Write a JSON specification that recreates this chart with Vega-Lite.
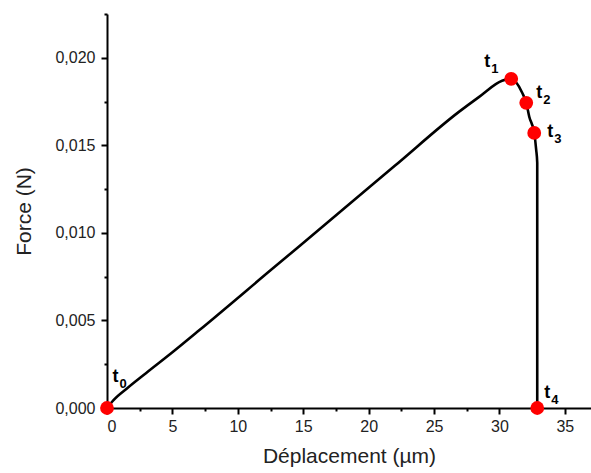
{
  "$schema": "https://vega.github.io/schema/vega-lite/v6.json",
  "width": 484,
  "height": 394,
  "autosize": "none",
  "padding": {"left": 107, "top": 14, "right": 0, "bottom": 65},
  "config": {
    "view": {"stroke": null},
    "axis": {
      "grid": false,
      "domainColor": "#000000",
      "domainWidth": 2,
      "tickColor": "#000000",
      "tickWidth": 2,
      "labelFont": "Liberation Sans",
      "labelFontSize": 16,
      "labelColor": "#222222",
      "titleFont": "Liberation Sans",
      "titleFontSize": 21,
      "titleFontWeight": "normal",
      "titleColor": "#222222",
      "zindex": 0
    }
  },
  "datasets": {
    "curve": [
      {"x": 0, "y": 0},
      {"x": 0.5, "y": 0.00045},
      {"x": 1.5, "y": 0.0011},
      {"x": 3.0, "y": 0.0020},
      {"x": 5.0, "y": 0.00318},
      {"x": 7.07, "y": 0.00445},
      {"x": 12.5, "y": 0.00786},
      {"x": 17.76, "y": 0.01116},
      {"x": 22.0, "y": 0.01383},
      {"x": 26.9, "y": 0.01691},
      {"x": 28.45, "y": 0.01777},
      {"x": 30.2, "y": 0.01869},
      {"x": 30.9, "y": 0.0188},
      {"x": 31.74, "y": 0.0180},
      {"x": 32.05, "y": 0.01743},
      {"x": 32.28, "y": 0.01663},
      {"x": 32.66, "y": 0.01571},
      {"x": 32.81, "y": 0.01474},
      {"x": 32.89, "y": 0.0140},
      {"x": 32.89, "y": 0}
    ],
    "points": [
      {"name": "t0", "x": 0, "y": 0},
      {"name": "t1", "x": 30.9, "y": 0.0188},
      {"name": "t2", "x": 32.05, "y": 0.01743},
      {"name": "t3", "x": 32.66, "y": 0.01571},
      {"name": "t4", "x": 32.89, "y": 0}
    ],
    "labels": [
      {"t": "t", "sub": "0", "x": 0.42, "y": 0.00149},
      {"t": "t", "sub": "1", "x": 28.84, "y": 0.01949},
      {"t": "t", "sub": "2", "x": 32.81, "y": 0.01771},
      {"t": "t", "sub": "3", "x": 33.65, "y": 0.01549},
      {"t": "t", "sub": "4", "x": 33.42, "y": 0.00057}
    ]
  },
  "encoding": {
    "x": {
      "field": "x",
      "type": "quantitative",
      "scale": {"domain": [0, 37], "nice": false, "zero": false},
      "axis": {
        "title": "Déplacement (µm)",
        "values": [0, 2.5, 5, 7.5, 10, 12.5, 15, 17.5, 20, 22.5, 25, 27.5, 30, 32.5, 35],
        "labelExpr": "datum.value % 5 === 0 ? format(datum.value, 'd') : ''",
        "tickSize": {"condition": {"test": "datum.value % 5 === 0", "value": 6}, "value": 3},
        "labelPadding": 4,
        "titlePadding": 11
      }
    },
    "y": {
      "field": "y",
      "type": "quantitative",
      "scale": {"domain": [0, 0.0225], "nice": false, "zero": false},
      "axis": {
        "title": "Force (N)",
        "values": [0, 0.0025, 0.005, 0.0075, 0.01, 0.0125, 0.015, 0.0175, 0.02, 0.0225],
        "labelExpr": "abs(datum.value*200 - round(datum.value*200)) < 0.001 ? replace(format(datum.value, '.3f'), '.', ',') : ''",
        "tickSize": {"condition": {"test": "abs(datum.value*200 - round(datum.value*200)) < 0.001", "value": 6}, "value": 3},
        "labelPadding": 6,
        "titlePadding": 20
      }
    }
  },
  "layer": [
    {
      "data": {"name": "curve"},
      "mark": {"type": "line", "color": "#000000", "strokeWidth": 2.6, "interpolate": "monotone"}
    },
    {
      "data": {"name": "points"},
      "mark": {"type": "circle", "color": "#ff0000", "opacity": 1, "size": 190}
    },
    {
      "data": {"name": "labels"},
      "mark": {"type": "text", "align": "left", "baseline": "alphabetic", "font": "Liberation Sans", "fontWeight": "bold", "fontSize": 18, "color": "#000000"},
      "encoding": {"text": {"field": "t"}}
    },
    {
      "data": {"name": "labels"},
      "mark": {"type": "text", "align": "left", "baseline": "alphabetic", "font": "Liberation Sans", "fontWeight": "bold", "fontSize": 13, "color": "#000000", "dx": 7, "dy": 6},
      "encoding": {"text": {"field": "sub"}}
    }
  ]
}
